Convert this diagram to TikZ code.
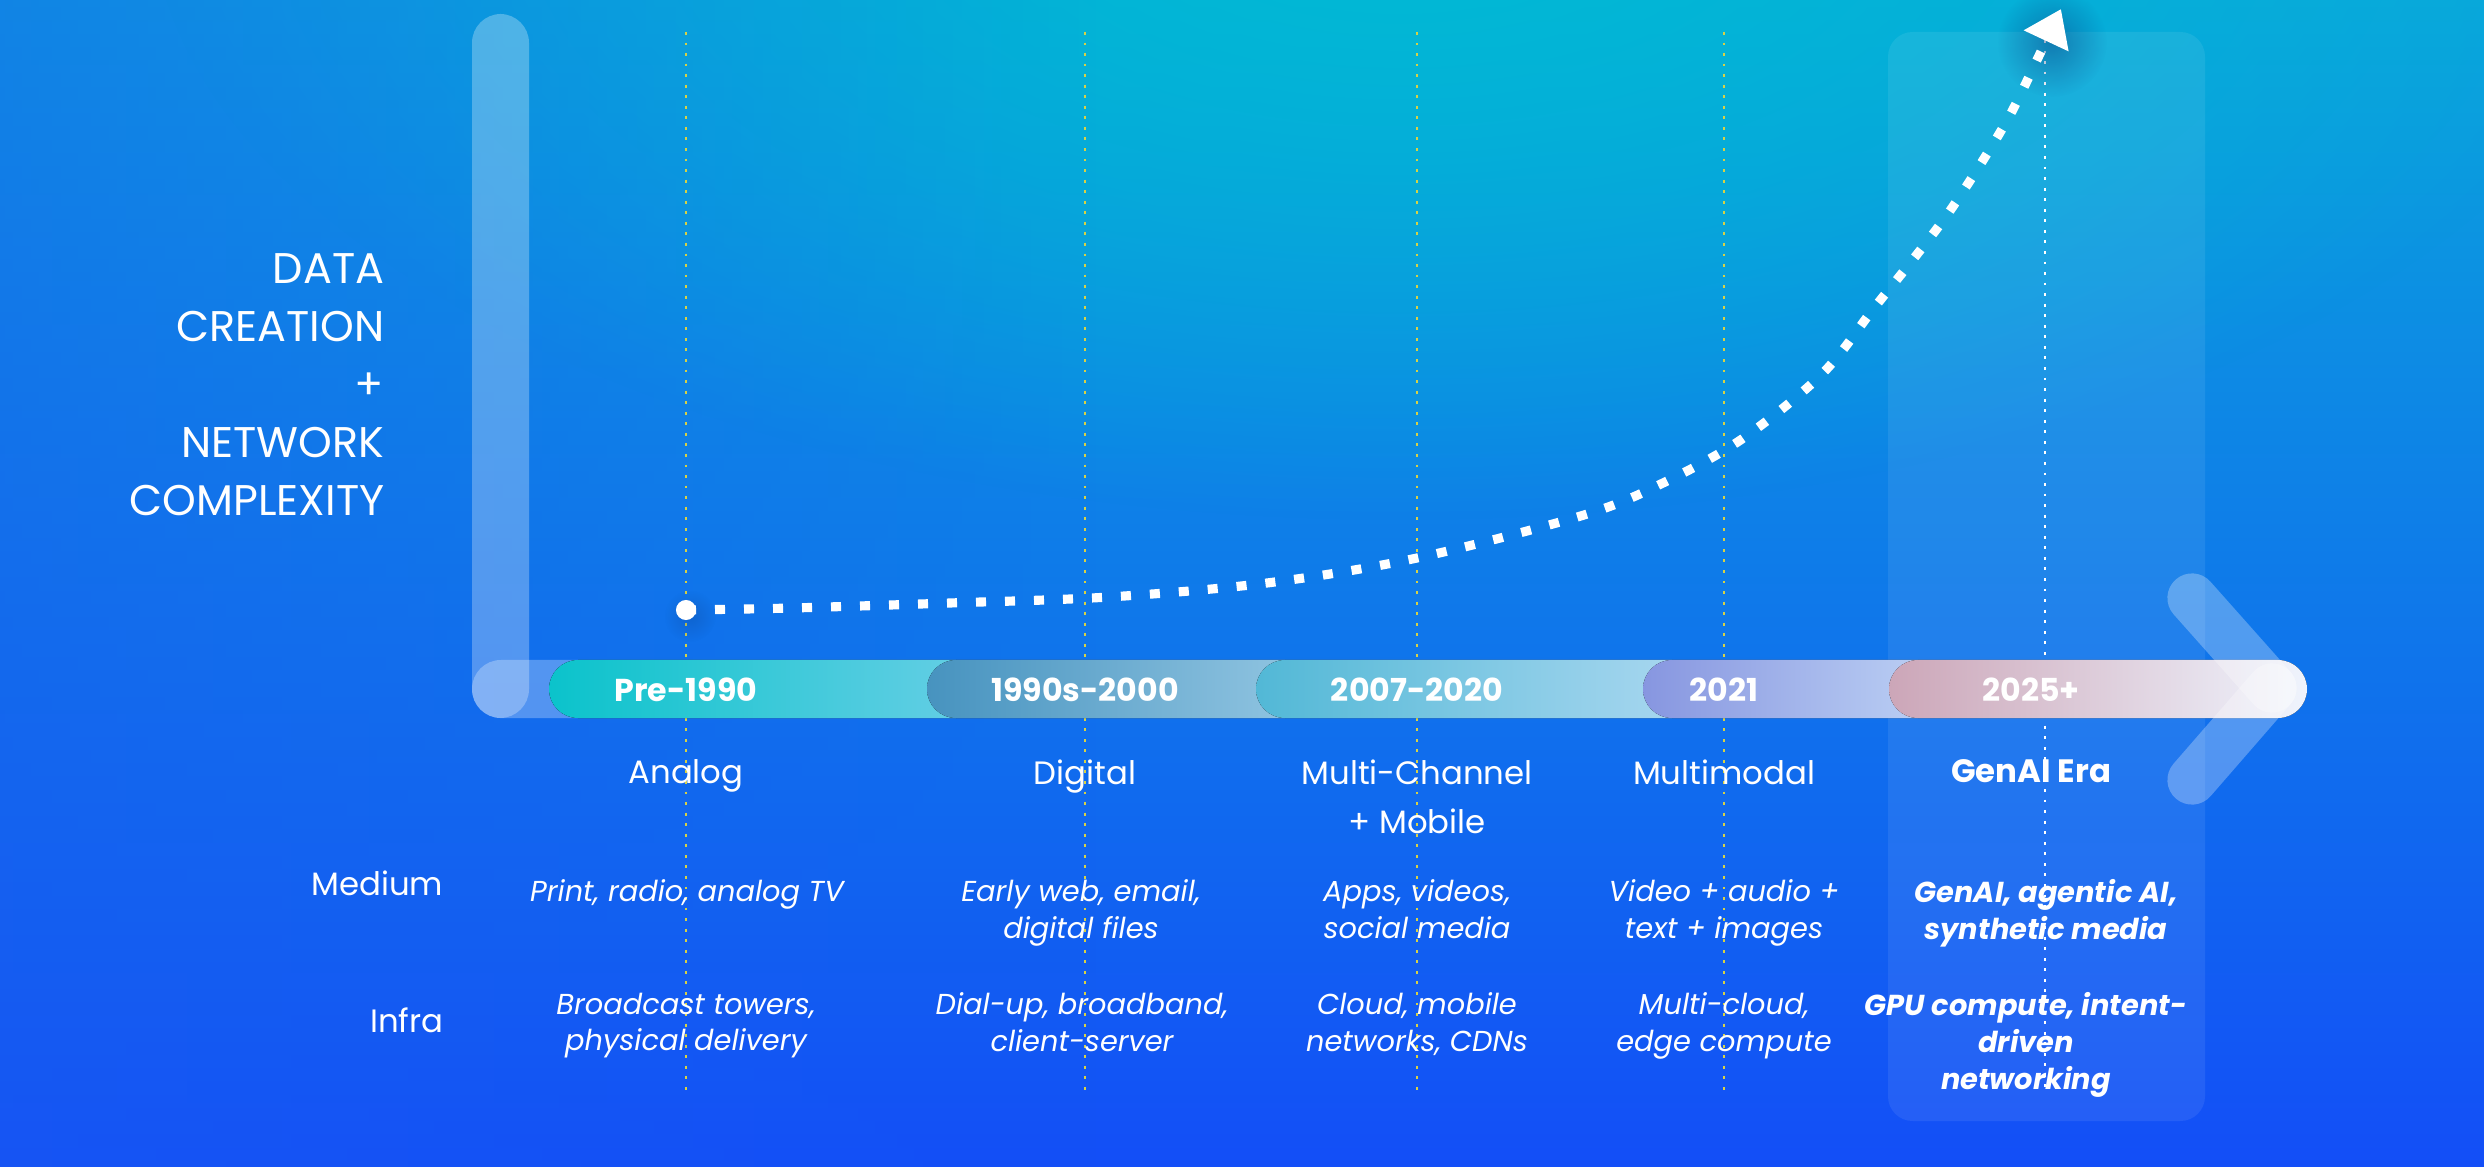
\documentclass[tikz,border=0pt]{standalone}
\usepackage{fontspec}
\setmainfont{Poppins}
\usetikzlibrary{arrows.meta,fadings}

% background
\definecolor{bgtop}{HTML}{0AA6DC}
\definecolor{bgmid}{HTML}{0A86E7}
\definecolor{bgbot}{HTML}{134EF7}
\definecolor{glowcyan}{HTML}{00BBD4}
\definecolor{leftblue}{HTML}{1A5CF0}
\definecolor{shade}{HTML}{0A3A80}
% guides
\definecolor{guideyellow}{HTML}{D8D245}
% era segments of the timeline bar
\definecolor{segAa}{HTML}{0BC3CB}\definecolor{segAb}{HTML}{62CEE4}
\definecolor{segBa}{HTML}{4793BF}\definecolor{segBb}{HTML}{8EC3E0}
\definecolor{segCa}{HTML}{52B8D6}\definecolor{segCb}{HTML}{A6D6EF}
\definecolor{segDa}{HTML}{8796E0}\definecolor{segDb}{HTML}{B9CDF3}
\definecolor{segEa}{HTML}{CCA6B8}\definecolor{segEm}{HTML}{E2E5F5}\definecolor{segEb}{HTML}{EFF4FD}

\tikzfading[name=fadeeast, left color=transparent!0, right color=transparent!100]
\tikzfading[name=glowfade, inner color=transparent!0, outer color=transparent!100]

\begin{document}
\begin{tikzpicture}[x=0.01cm, y=-0.01cm,
  ytitle/.style={font=\fontsize{12.2pt}{16.5pt}\selectfont, text=white, align=right, anchor=north east, inner sep=0pt},
  barlabel/.style={font=\bfseries\fontsize{9pt}{10pt}\selectfont, text=white, anchor=base, inner sep=0pt},
  era/.style={font=\fontsize{9.2pt}{13.9pt}\selectfont, text=white, align=center, anchor=north, inner sep=0pt},
  rowhead/.style={font=\fontsize{9.2pt}{11pt}\selectfont, text=white, anchor=base east, inner sep=0pt},
  rowtext/.style={font=\itshape\fontsize{8.2pt}{10.5pt}\selectfont, text=white, align=center, anchor=north, inner sep=0pt},
  genai/.style={rowtext, font=\bfseries\itshape\fontsize{8.2pt}{10.5pt}\selectfont},
  guide/.style={draw=guideyellow, line width=0.8pt, dash pattern=on 0.8pt off 2.2pt},
  pill/.style={fill=white, fill opacity=0.28, rounded corners=8.2pt},
  chev/.style={draw=white, draw opacity=0.28, line width=14pt, line cap=round},
  softshadow/.style={fill=shade, fill opacity=0.45, path fading=glowfade, fit fading=true},
  curve/.style={draw=white, line width=2.6pt, dash pattern=on 2.85pt off 5.4pt,
    -{Triangle[length=10pt, width=13.4pt]}}
]
\useasboundingbox (0,0) rectangle (2484,1167);

% ---- background ----
\begin{scope}
  \clip (0,0) rectangle (2484,1167);
  \fill[top color=bgtop, middle color=bgmid, bottom color=bgbot] (0,0) rectangle (2484,1167);
  \fill[glowcyan, path fading=glowfade, fit fading=true] (1400,-100) ellipse [x radius=1250, y radius=620];
  \fill[leftblue, fill opacity=0.45, path fading=fadeeast, fit fading=true] (0,0) rectangle (1100,1167);
\end{scope}

% ---- highlighted GenAI column ----
\fill[white, fill opacity=0.08, rounded corners=7pt] (1888,32) rectangle (2205,1121);

% ---- vertical axis ----
\fill[pill] (472,14) rectangle (529,718);

% ---- dotted era guides ----
\foreach \gx in {686,1085,1417,1724}
  \draw[guide] (\gx,32) -- (\gx,1090);
\draw[guide, draw=white] (2045,40) -- (2045,1090);

% ---- timeline bar ----
\fill[pill] (472,660) rectangle (2307,718);
\fill[left color=segAa, right color=segAb]
  (578,660) -- (956,660) -- (956,718) -- (578,718) arc[start angle=90, end angle=270, radius=29] -- cycle;
\fill[left color=segBa, right color=segBb]
  (956,660) -- (1285,660) -- (1285,718) -- (956,718) arc[start angle=90, end angle=270, radius=29] -- cycle;
\fill[left color=segCa, right color=segCb]
  (1285,660) -- (1672,660) -- (1672,718) -- (1285,718) arc[start angle=90, end angle=270, radius=29] -- cycle;
\fill[left color=segDa, right color=segDb]
  (1672,660) -- (1918,660) -- (1918,718) -- (1672,718) arc[start angle=90, end angle=270, radius=29] -- cycle;
\fill[left color=segEa, middle color=segEm, right color=segEb]
  (1918,660) -- (2278,660) arc[start angle=270, end angle=450, radius=29]
  -- (1918,718) arc[start angle=90, end angle=270, radius=29] -- cycle;

% ---- arrow chevron at the end of the time axis ----
\coordinate (chevtop) at (2192,598);
\coordinate (chevtip) at (2272,688);
\coordinate (chevbot) at (2192,780);
\draw[chev] (chevtop) -- (chevtip);
\draw[chev] (chevbot) -- (chevtip);

% ---- era labels on the bar ----
\node[barlabel] (pre) at (686,702) {Pre-1990};
\node[barlabel] (nineties) at (1085,702) {1990s-2000};
\node[barlabel] (mobile) at (1417,702) {2007-2020};
\node[barlabel] (multi) at (1724,702) {2021};
\node[barlabel] (genai) at (2031,702) {2025+};

% ---- growth curve ----
\coordinate (origin) at (686,610);
\coordinate (peak) at (2061,9);
\fill[softshadow] (2052,42) circle [radius=55];
\fill[softshadow, fill opacity=0.25] (690,616) circle [radius=26];
\draw[curve] plot[smooth, tension=0.55] coordinates {(origin) (792,608) (950,603) (1109,597)
  (1267,583) (1417,558) (1584,515) (1663,483) (1742,439) (1822,374) (1874,308)
  (1911,262) (1947,215) (1980,165) (2010,115) (2036,62) (peak)};
\node[circle, fill=white, inner sep=0pt, minimum size=5.7pt] (dot) at (origin) {};

% ---- vertical axis title ----
\node[ytitle] (ytitle) at (385,253) {DATA\\CREATION\\+\\NETWORK\\COMPLEXITY};

% ---- era names ----
\node[era] (analog) at (686,759) {Analog};
\node[era] (digital) at (1085,759) {Digital};
\node[era] (channel) at (1417,759) {Multi-Channel\\+ Mobile};
\node[era] (modal) at (1724,759) {Multimodal};
\node[era, font=\bfseries\fontsize{9.2pt}{13.9pt}\selectfont] (genaiera) at (2031,759) {GenAI Era};

% ---- row headers ----
\node[rowhead] (medium) at (444,895) {Medium};
\node[rowhead] (infra) at (444,1032) {Infra};

% ---- medium row ----
\node[rowtext] (medA) at (687,879) {Print, radio, analog TV};
\node[rowtext] (medB) at (1081,879) {Early web, email,\\digital files};
\node[rowtext] (medC) at (1417,879) {Apps, videos,\\social media};
\node[rowtext] (medD) at (1724,879) {Video + audio +\\text + images};
\node[genai] (medE) at (2046,879) {GenAI, agentic AI,\\synthetic media};

% ---- infrastructure row ----
\node[rowtext] (infA) at (686,992) {Broadcast towers,\\physical delivery};
\node[rowtext] (infB) at (1082,992) {Dial-up, broadband,\\client-server};
\node[rowtext] (infC) at (1417,992) {Cloud, mobile\\networks, CDNs};
\node[rowtext] (infD) at (1724,992) {Multi-cloud,\\edge compute};
\node[genai] (infE) at (2026,992) {GPU compute, intent-\\driven\\networking};
\end{tikzpicture}
\end{document}
